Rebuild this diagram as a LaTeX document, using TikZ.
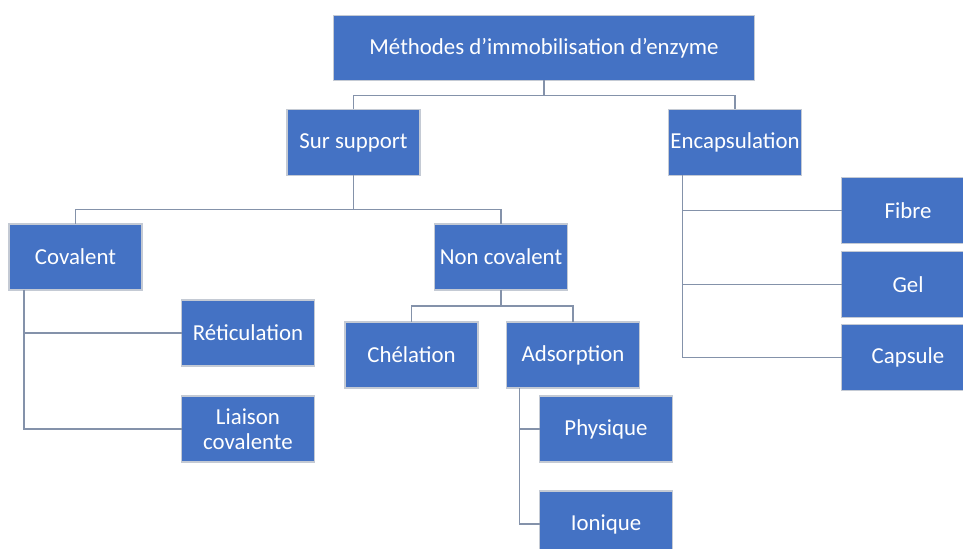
\documentclass[tikz,border=0pt]{standalone}
\usepackage{fontspec}
\setmainfont{Carlito}
\usepackage{tikz}
\usetikzlibrary{positioning}
\definecolor{bleuboite}{RGB}{68,114,196}
\definecolor{grisbord}{RGB}{196,202,212}
\definecolor{grisligne}{RGB}{132,146,170}
\tikzset{
    trait/.style={draw=grisligne, line width=1.1pt}
}

\begin{document}
\begin{tikzpicture}[
            font=\fontsize{13}{14.5}\selectfont,
            % Style de base
            base/.style={
                rectangle, draw=grisbord, fill=bleuboite, line width=0.8pt, text=white, align=center, inner xsep=1pt, outer sep=0pt
            },
            % Boîte racine (titre)
            box_racine/.style={
                base, minimum width=8.42cm, minimum height=1.3cm
            },
            % Boîtes des méthodes (même largeur et même hauteur)
            box_methode/.style={
                base, minimum width=2.66cm, minimum height=1.32cm
            }
        ]
            \useasboundingbox (0,0) rectangle (19.26,-10.98);

            % 1. Racine et premier niveau
            \node[box_racine] (racine) at (10.88,-0.96) {Méthodes d’immobilisation d’enzyme};

            \node[box_methode, below=0.58cm of racine, xshift=-3.81cm] (support) {Sur support};
            \node[box_methode, below=0.58cm of racine, xshift=3.82cm] (encaps) {Encapsulation};

            % 2. Branche « Sur support »
            \node[box_methode, below=0.97cm of support, xshift=-5.56cm] (covalent) {Covalent};
            \node[box_methode, below=0.97cm of support, xshift=2.95cm] (non_cov) {Non covalent};

            \node[box_methode, below=0.2cm of covalent, xshift=3.45cm] (reticul) {Réticulation};
            \node[box_methode, below=0.6cm of reticul] (liaison) {Liaison\\covalente};

            \node[box_methode, below=0.64cm of non_cov, xshift=-1.79cm] (chelation) {Chélation};
            \node[box_methode, below=0.64cm of non_cov, xshift=1.44cm] (adsorp) {Adsorption};

            \node[box_methode, below=0.16cm of adsorp, xshift=0.66cm] (physique) {Physique};
            \node[box_methode, below=0.58cm of physique] (ionique) {Ionique};

            % 3. Branche « Encapsulation »
            \node[box_methode, below=0.04cm of encaps, xshift=3.46cm] (fibre) {Fibre};
            \node[box_methode, below=0.16cm of fibre] (gel) {Gel};
            \node[box_methode, below=0.14cm of gel] (capsule) {Capsule};

            % --- CONNEXIONS ---

            % Coordonnées invisibles pour les bifurcations
            \coordinate (bif_racine) at ([yshift=-0.3cm]racine.south);
            \coordinate (bif_support) at ([yshift=-0.68cm]support.south);
            \coordinate (bif_noncov) at ([yshift=-0.32cm]non_cov.south);

            \draw[trait] (racine.south) -- (bif_racine) -| (support.north);
            \draw[trait] (racine.south) -- (bif_racine) -| (encaps.north);

            \draw[trait] (support.south) -- (bif_support) -| (covalent.north);
            \draw[trait] (support.south) -- (bif_support) -| (non_cov.north);

            \draw[trait] (non_cov.south) -- (bif_noncov) -| (chelation.north);
            \draw[trait] (non_cov.south) -- (bif_noncov) -| (adsorp.north);

            % Descentes latérales vers les sous-méthodes
            \draw[trait] ([xshift=0.3cm]covalent.south west) |- (reticul.west);
            \draw[trait] ([xshift=0.3cm]covalent.south west) |- (liaison.west);

            \draw[trait] ([xshift=0.26cm]adsorp.south west) |- (physique.west);
            \draw[trait] ([xshift=0.26cm]adsorp.south west) |- (ionique.west);

            \draw[trait] ([xshift=0.28cm]encaps.south west) |- (fibre.west);
            \draw[trait] ([xshift=0.28cm]encaps.south west) |- (gel.west);
            \draw[trait] ([xshift=0.28cm]encaps.south west) |- (capsule.west);

        \end{tikzpicture}
\end{document}
